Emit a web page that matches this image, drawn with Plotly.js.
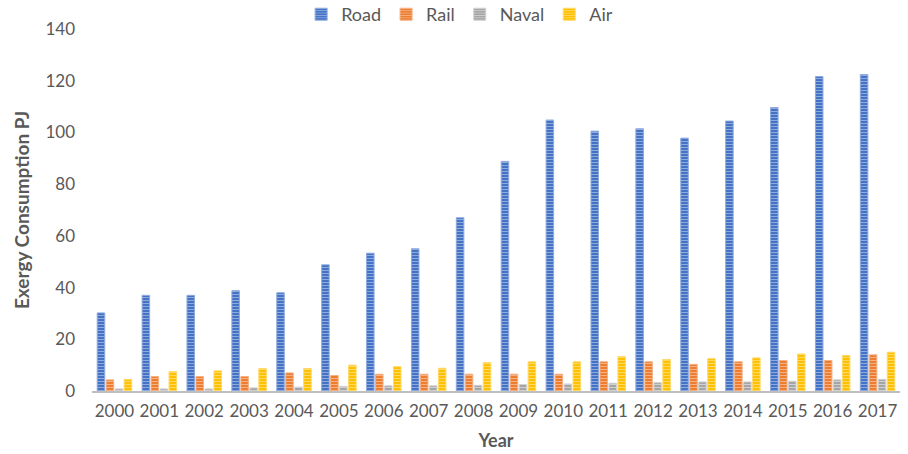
<!DOCTYPE html>
<html><head><meta charset="utf-8">
<script src="https://cdn.plot.ly/plotly-3.0.1.min.js"></script>
<style>html,body{margin:0;padding:0;background:#fff}#chart{width:908px;height:454px}</style>
</head><body><div id="chart"></div>
<script>
const years = ['2000','2001','2002','2003','2004','2005','2006','2007','2008','2009','2010','2011','2012','2013','2014','2015','2016','2017'];
const road  = [30.2,37,37,38.8,38,48.8,53.3,55,67,88.8,104.8,100.5,101.4,97.8,104.4,109.6,121.6,122.4];
const rail  = [4.3,5.6,5.6,5.6,7,6,6.5,6.5,6.5,6.5,6.5,11.3,11.3,10.3,11.3,11.8,11.8,14];
const naval = [0.8,0.8,0.8,1.2,1.5,1.8,2,2,2.2,2.5,2.7,3,3.2,3.5,3.5,3.8,4.3,4.5];
const air   = [4.5,7.5,7.8,8.7,8.7,10,9.4,8.8,11,11.3,11.3,13.3,12.2,12.5,12.8,14.3,13.7,15];
const names = ['Road','Rail','Naval','Air'];
const series = [road, rail, naval, air];
const colors = ['#4472C4','#ED7D31','#A5A5A5','#FFC000'];
const light  = ['#8FAADC','#F4B183','#D0D0D0','#FFD966'];

const traces = series.map((v,i)=>({
  type:'bar', name:names[i], x:years, y:v,
  marker:{color:colors[i], line:{color:light[i], width:1},
    pattern:{shape:'-', fgcolor:light[i], bgcolor:colors[i], size:3, solidity:0.35, fillmode:'replace'}}
}));

const layout = {
  width:908, height:454,
  margin:{l:92, r:8, t:29, b:63, autoexpand:false},
  paper_bgcolor:'#fff', plot_bgcolor:'#fff',
  font:{family:'Lato, "Open Sans", sans-serif', color:'#595959', size:17},
  barmode:'group', bargap:0.2, bargroupgap:0.16,
  showlegend:true,
  legend:{orientation:'h', x:0.455, xanchor:'center', y:1.04, yanchor:'middle',
    font:{size:18, color:'#595959'}, itemwidth:30, traceorder:'normal'},
  xaxis:{type:'category', showline:true, linecolor:'#BFBFBF', linewidth:2,
    ticks:'', tickfont:{size:17, color:'#595959'}, ticklabelstandoff:4,
    title:{text:'<b>Year</b>', font:{size:18, color:'#595959'}, standoff:14}},
  yaxis:{range:[0,140], dtick:20, showgrid:false, zeroline:false, showline:false,
    ticks:'', tickfont:{size:17, color:'#595959'}, ticklabelstandoff:16,
    title:{text:'<b>Exergy Consumption PJ</b>', font:{size:19, color:'#595959'}, standoff:10}}
};
Plotly.newPlot('chart', traces, layout, {displayModeBar:false});
</script></body></html>
